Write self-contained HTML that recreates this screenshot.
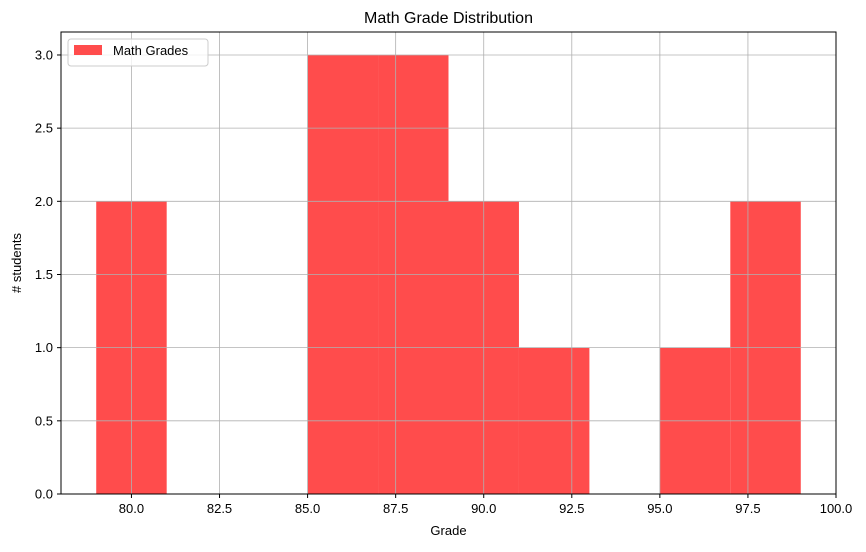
<!DOCTYPE html>
<html><head><meta charset="utf-8"><style>
body{margin:0;background:#fff;font-family:"Liberation Sans",sans-serif;}
</style></head><body>
<svg id="chart" width="866" height="547" xmlns="http://www.w3.org/2000/svg" font-family="Liberation Sans, sans-serif">
<text x="448.5" y="23" text-anchor="middle" font-size="16">Math Grade Distribution</text>
<g id="bars"></g>
<g id="grid"></g>
<rect x="61" y="32" width="775" height="462" fill="none" stroke="#000" stroke-width="1"/>
<g id="ticks"></g>
<text x="448.5" y="535" text-anchor="middle" font-size="13">Grade</text>
<text transform="translate(21,263) rotate(-90)" text-anchor="middle" font-size="13"># students</text>
<g>
<rect x="68" y="39" width="140" height="27" rx="3" fill="#fff" fill-opacity="0.8" stroke="#ccc"/>
<rect x="74" y="45" width="28" height="10" fill="#ff4c4c"/>
<text x="113" y="55" font-size="13">Math Grades</text>
</g>
</svg>
<script>
const binEdges=[79,81,83,85,87,89,91,93,95,97,99];
const counts=[2,0,0,3,3,2,1,0,1,2];
const xTicks=[80,82.5,85,87.5,90,92.5,95,97.5,100];
const yTicks=[0,0.5,1,1.5,2,2.5,3];
const X0=61,X1=836,Y0=494,Y1=32,xmin=78.0,xmax=100,ymin=0,ymax=3.157;
const sx=v=>X0+(v-xmin)/(xmax-xmin)*(X1-X0);
const sy=v=>Y0-(v-ymin)/(ymax-ymin)*(Y0-Y1);
const NS="http://www.w3.org/2000/svg";
function mk(t,a,p){const e=document.createElementNS(NS,t);for(const k in a)e.setAttribute(k,a[k]);p.appendChild(e);return e;}
const bars=document.getElementById('bars'),grid=document.getElementById('grid'),ticks=document.getElementById('ticks');
counts.forEach((c,i)=>{if(!c)return;
const r=mk('rect',{x:sx(binEdges[i]),y:sy(c),width:sx(binEdges[i+1])-sx(binEdges[i]),height:sy(0)-sy(c),fill:'#ff4c4c'},bars);

});
xTicks.forEach(t=>{const x=sx(t);
const g=mk('line',{x1:x,x2:x,y1:Y1,y2:Y0,stroke:'#b0b0b0','stroke-width':0.8},grid);


mk('line',{x1:x,x2:x,y1:Y0,y2:Y0+4,stroke:'#000'},ticks);
const l=mk('text',{x:x,y:Y0+19,'text-anchor':'middle','font-size':13},ticks);l.textContent=t.toFixed(1);

});
yTicks.forEach(t=>{const y=sy(t);
const g=mk('line',{x1:X0,x2:X1,y1:y,y2:y,stroke:'#b0b0b0','stroke-width':0.8},grid);


mk('line',{x1:X0-4,x2:X0,y1:y,y2:y,stroke:'#000'},ticks);
const l=mk('text',{x:X0-8,y:y+4.5,'text-anchor':'end','font-size':13},ticks);l.textContent=t.toFixed(1);

});
</script>
</body></html>
